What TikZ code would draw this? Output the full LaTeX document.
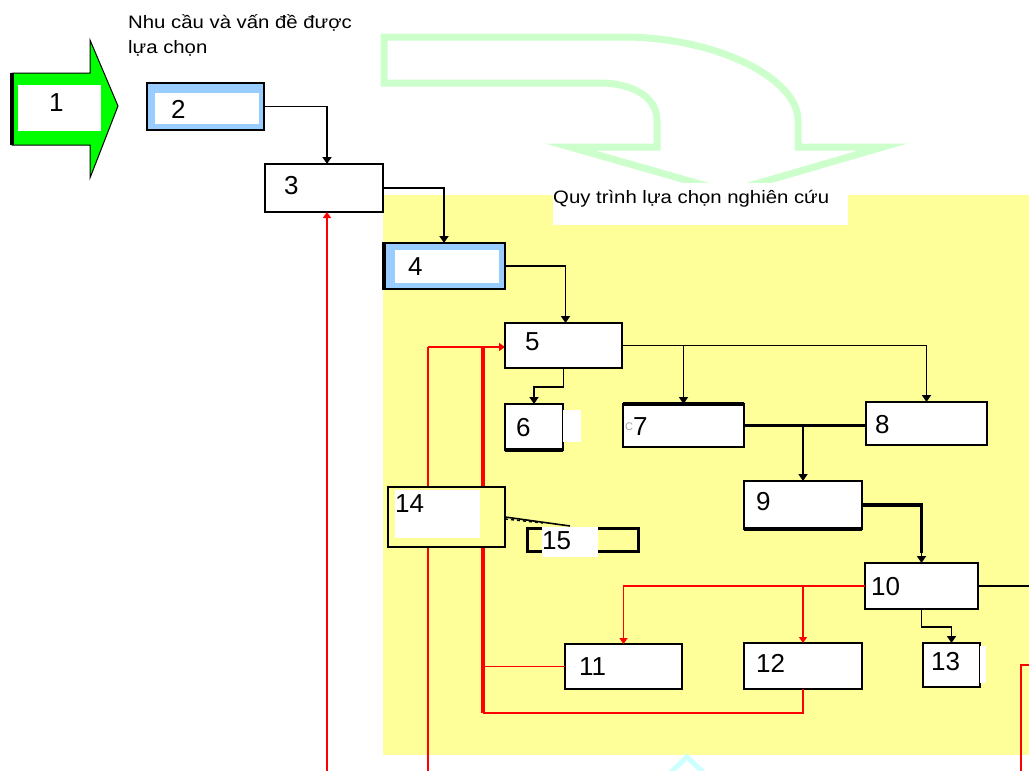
\documentclass[tikz,border=0pt]{standalone}
\usepackage{fontspec}
\usepackage{graphicx}
\setmainfont{Liberation Sans}
\usetikzlibrary{arrows.meta,calc}
\definecolor{bgyellow}{RGB}{255,255,153}
\definecolor{ltblue}{RGB}{153,204,255}
\definecolor{ltgreen}{RGB}{204,255,204}
\definecolor{ltcyan}{RGB}{204,255,255}
\definecolor{brgreen}{RGB}{0,255,0}
\definecolor{redline}{RGB}{255,0,0}
\tikzset{
  box/.style={draw=black, line width=1.8pt, fill=white, inner sep=0pt, outer sep=0pt},
  bluebox/.style={box, fill=ltblue},
  yelbox/.style={box, fill=bgyellow},
  conn/.style={draw=black, line width=1.8pt, -{Triangle[length=7pt,width=9pt]}},
  thickconn/.style={draw=black, line width=3.5pt},
  redconn/.style={draw=redline, line width=1.6pt, -{Triangle[length=6pt,width=8pt]}},
  redline/.style={draw=redline, line width=1.6pt},
  redthick/.style={draw=redline, line width=3.5pt},
  num/.style={anchor=west, inner sep=0pt, font=\fontsize{26}{26}\selectfont},
  graytag/.style={anchor=west, inner sep=0pt, text=black!35, font=\fontsize{11}{11}\selectfont},
  title/.style={anchor=base west, inner sep=0pt, font=\fontsize{18}{22}\selectfont},
  patch/.style={fill=white, draw=none}
}
\begin{document}
\begin{tikzpicture}[x=1pt,y=-1pt]
\useasboundingbox (0,0) rectangle (1029,771);
\fill[white] (0,0) rectangle (1029,771);
% yellow area
\fill[bgyellow] (383,195) rectangle (1029,755);
% curved light green arrow outline
\draw[ltgreen, line width=7pt, line join=miter]
  (384,37) -- (622,37) .. controls (720,37) and (798,80) .. (798,120)
  -- (798,147) -- (883,147) -- (728,192) -- (570,147) -- (657,147)
  -- (657,120) .. controls (657,97) and (632,83) .. (600,83) -- (384,83) -- cycle;
% label box
\fill[white] (553,183) rectangle (848,225);
\node[title] (qt) at (553,203) {\scalebox{1.13}[1]{Quy trình lựa chọn nghiên cứu}};
% cyan arrow tip at bottom
\draw[ltcyan, line width=5pt] (667,776) -- (687,757) -- (707,776);
% title text
\node[title] (t1) at (128,28) {\scalebox{1.13}[1]{Nhu cầu và vấn đề được}};
\node[title] (t2) at (128,53) {\scalebox{1.13}[1]{lựa chọn}};
% green block arrow 1
\draw[fill=brgreen, draw=black, line width=1pt] (12,73) -- (90,73) -- (90,40) -- (118,106) -- (90,178) -- (90,145) -- (12,145) -- cycle;
\draw[black, line width=3.5pt] (12,73) -- (12,145);
\node[patch, minimum width=83pt, minimum height=46pt, inner sep=0pt] (b1) at (59.5,108) {};
\node[num] (l1) at (49,103) {1};
% free coordinates
\coordinate (r3bot) at (327,771);
\coordinate (r14bot) at (428,771);
\coordinate (r14top) at (428,347);
\coordinate (rthick) at (483,347);
\coordinate (rthickbot) at (483,713);
\coordinate (rright) at (1021,771);
\coordinate (rrightend) at (1029,665);
\coordinate (e10) at (1029,586);
% red lines (behind boxes)
\draw[redline] (r14bot) -- (r14top);
\draw[redconn] (r14top) -- (505,347);
\draw[redthick] (rthick) -- (rthickbot);
% boxes
\node[bluebox, minimum width=117pt, minimum height=47pt] (b2) at (205.5,106.5) {};
\fill[white] (155,93) rectangle (259,124);
\node[box, minimum width=118pt, minimum height=48pt] (b3) at (324,188) {};
\node[bluebox, minimum width=122pt, minimum height=46pt] (b4) at (444,266) {};
\fill[white] (395,250) rectangle (499,283);
\draw[black, line width=3.5pt] (384.5,243) -- (384.5,289);
\node[box, minimum width=117pt, minimum height=45pt] (b5) at (563.5,345.5) {};
\node[box, minimum width=58pt, minimum height=46pt] (b6) at (534,427) {};
\draw[black, line width=3.5pt] (b6.south west) -- (b6.south east);
\node[box, minimum width=121pt, minimum height=43pt] (b7) at (683.5,425.5) {};
\draw[black, line width=3.5pt] (b7.north west) -- (b7.north east);
\node[box, minimum width=121pt, minimum height=43pt] (b8) at (926.5,423.5) {};
\node[box, minimum width=118pt, minimum height=48pt] (b9) at (803,505) {};
\draw[black, line width=3.5pt] (b9.south west) -- (b9.south east);
\node[box, minimum width=113pt, minimum height=46pt] (b10) at (921.5,586) {};
\node[box, minimum width=117pt, minimum height=45pt] (b11) at (623.5,666.5) {};
\node[box, minimum width=118pt, minimum height=46pt] (b12) at (803,666) {};
\node[box, minimum width=57pt, minimum height=44pt] (b13) at (951.5,665) {};
\node[yelbox, minimum width=117pt, minimum height=60pt] (b14) at (446.5,517) {};
\node[yelbox, line width=3pt, minimum width=111pt, minimum height=23pt] (b15) at (582.5,539.5) {};
% red connectors
\draw[redconn] (r3bot) -- ([xshift=3pt]b3.south);
\draw[redconn] (b10.west) -| (b11.north);
\draw[redconn] (b10.west -| b12.north) -- (b12.north);
\draw[redline, line width=2.2pt] (rthickbot) -| (b12.south);
\draw[redline] (b11.west) -- (b11.west -| rthick);
\draw[redline] (rright) |- (rrightend);
% black connectors
\draw[conn] (b2.east) -| ([xshift=3pt]b3.north);
\draw[conn] (b3.east) -| (b4.north);
\draw[conn] (b4.east) -| ([xshift=2pt]b5.north);
\draw[conn] (b5.south) -- ++(0,19) -| (b6.north);
\draw[conn] (b5.east) -| (b8.north);
\draw[conn] (b5.east -| b7.north) -- (b7.north);
\draw[thickconn] (b7.east) -- (b7.east -| b8.west);
\draw[conn] (b9.north |- b7.east) -- (b9.north);
\draw[thickconn] (b9.east) -| ([yshift=10pt]b10.north);
\draw[conn] ([yshift=12pt]b10.north) -- (b10.north);
\draw[conn] (b10.south) -- ++(0,18) -| (b13.north);
\draw[black, line width=1.8pt] (b10.east) -- (e10);
\draw[black, line width=1.6pt] (b14.east) -- (570,526);
\draw[black, line width=1.4pt, dashed] ([yshift=-2pt]b14.east) -- (543,523);
% white patches
\fill[white] (563,410) rectangle (581,442);
\fill[white] (980,646) rectangle (986,683);
\fill[white] (395,490) rectangle (480,538);
\fill[white] (542,527) rectangle (598,557);
% labels
\node[num] (l2) at (171,109) {2};
\node[num] (l3) at (284,186) {3};
\node[num] (l4) at (408,267) {4};
\node[num] (l5) at (525,342) {5};
\node[num] (l6) at (516,428) {6};
\node[graytag] (g7) at (625,427) {C};
\node[num] (l7) at (633,427) {7};
\node[num] (l8) at (875,425) {8};
\node[num] (l9) at (756,502) {9};
\node[num] (l10) at (871,587) {10};
\node[num] (l11) at (579,667) {11};
\node[num] (l12) at (756,663) {12};
\node[num] (l13) at (931,662) {13};
\node[num] (l14) at (395,504) {14};
\node[num] (l15) at (542,541) {15};
\end{tikzpicture}
\end{document}
